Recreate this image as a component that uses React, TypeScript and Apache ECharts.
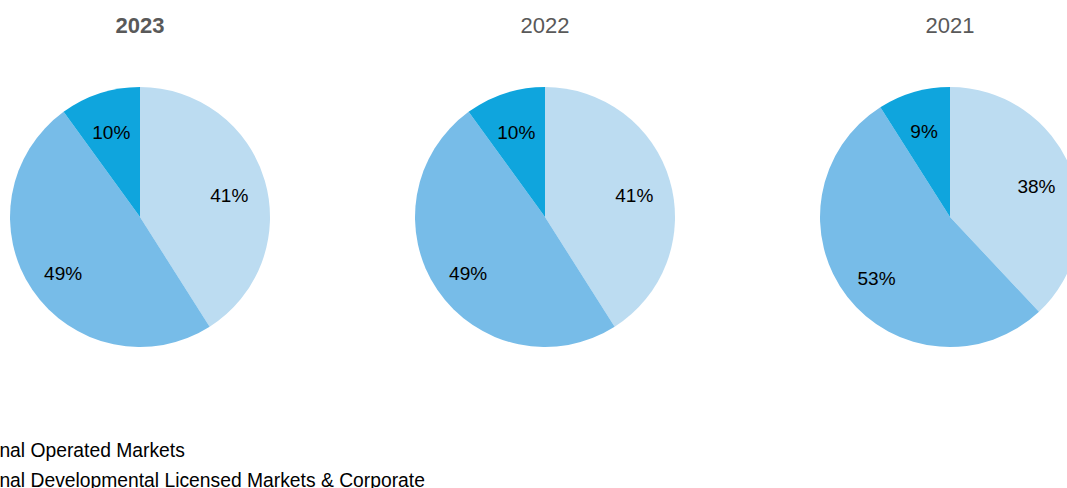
import React, { useEffect, useRef } from "react";
import * as echarts from "echarts";

const segments = [
  "U.S.",
  "International Operated Markets",
  "International Developmental Licensed Markets & Corporate",
];
const years = ["2023", "2022", "2021"];
const values2023 = [41, 49, 10];
const values2022 = [41, 49, 10];
const values2021 = [38, 53, 9];
const colors = ["#BCDCF1", "#77BCE8", "#0FA5DD"];

const OFFSET = 200;

export default function App() {
  const ref = useRef<HTMLDivElement>(null);
  useEffect(() => {
    if (!ref.current) return;
    const chart = echarts.init(ref.current, undefined, { renderer: "svg" });
    const allValues = [values2023, values2022, values2021];
    const centersX = [140, 545, 950].map((x) => x + OFFSET);
    const cy = 217;
    const R = 130;
    const font = "Liberation Sans, Arial, sans-serif";
    const series: any[] = [];
    allValues.forEach((vals, i) => {
      series.push({
        type: "pie",
        name: years[i],
        center: [centersX[i], cy],
        radius: [0, R],
        startAngle: 90,
        clockwise: true,
        silent: true,
        label: { show: false },
        labelLine: { show: false },
        itemStyle: { borderWidth: 0 },
        data: segments.map((s, k) => ({ name: s, value: vals[k], itemStyle: { color: colors[k] } })),
      });
    });
    allValues.forEach((vals, i) => {
      series.push({
        type: "pie",
        name: years[i] + " labels",
        center: [centersX[i], cy + 4],
        radius: [50, R],
        startAngle: 90,
        clockwise: true,
        silent: true,
        legendHoverLink: false,
        label: {
          show: true,
          position: "inside",
          formatter: "{c}%",
          color: "#000",
          fontSize: 19,
          fontFamily: font,
        },
        labelLine: { show: false },
        itemStyle: { color: "rgba(0,0,0,0)", borderWidth: 0 },
        data: segments.map((s, k) => ({ name: s, value: vals[k] })),
      });
    });
    chart.setOption({
      animation: false,
      color: colors,
      title: years.map((y, i) => ({
        text: y,
        left: centersX[i],
        top: 14,
        textAlign: "center",
        padding: 0,
        textStyle: {
          fontSize: 22,
          fontWeight: i === 0 ? "bold" : "normal",
          color: "#595959",
          fontFamily: font,
        },
      })),
      legend: {
        orient: "vertical",
        left: 100,
        top: 410,
        padding: 0,
        itemGap: 10,
        itemWidth: 14,
        itemHeight: 14,
        icon: "rect",
        data: segments,
        selectedMode: false,
        textStyle: { fontSize: 19.3, lineHeight: 20, color: "#000", fontFamily: font },
      },
      series,
    });
    return () => chart.dispose();
  }, []);
  return (
    <div style={{ position: "fixed", left: 0, top: 0, width: 1067, height: 488, overflow: "hidden", background: "#fff" }}>
      <div ref={ref} style={{ position: "absolute", left: -OFFSET, top: 0, width: 1067 + OFFSET + 150, height: 600 }} />
    </div>
  );
}
